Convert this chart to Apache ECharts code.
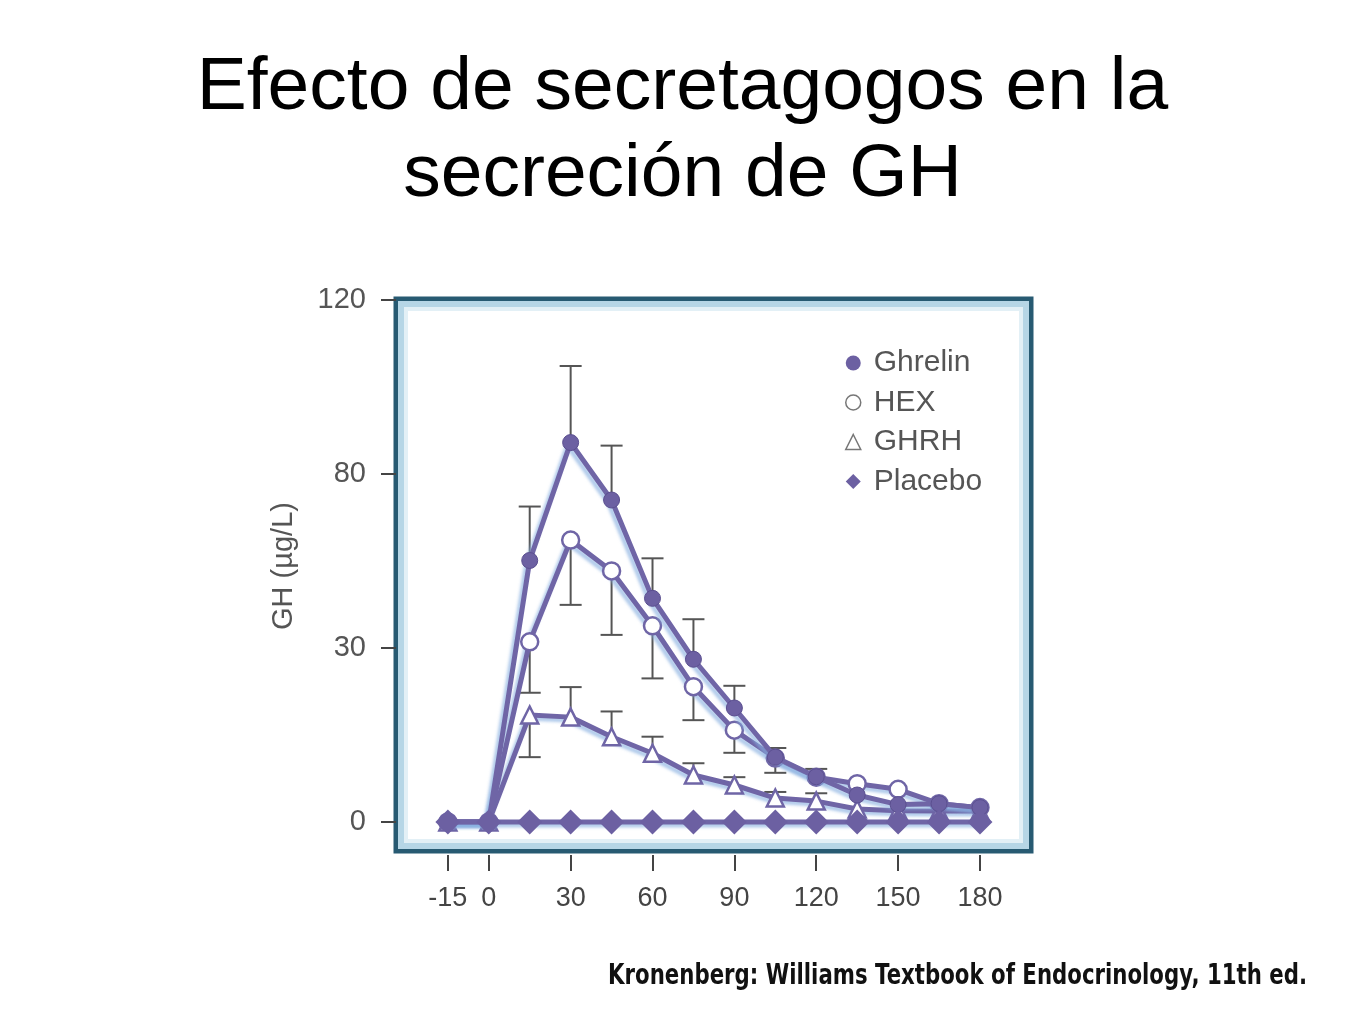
<!DOCTYPE html>
<html>
<head>
<meta charset="utf-8">
<script src="https://cdn.jsdelivr.net/npm/echarts@6/dist/echarts.min.js"></script>
<style>
  html, body { margin: 0; padding: 0; background: #ffffff; }
  #chart { width: 1365px; height: 1024px; }
</style>
</head>
<body>
<div id="chart"></div>
<script>
// ---- data ----
const times      = [-15, 0, 15, 30, 45, 60, 75, 90, 105, 120, 135, 150, 165, 180];
const ghrelin    = [0, 0, 60.1, 87.2, 74.0, 51.4, 37.4, 26.2, 14.9, 10.4, 6.2, 4.0, 4.2, 3.3];
const ghrelinErr = [null, null, 72.5, 104.8, 86.5, 60.6, 46.6, 31.3, 17.0, 12.2, null, null, null, null];
const hex        = [0, 0, 41.4, 64.8, 57.7, 45.1, 31.1, 21.1, 14.7, 10.3, 8.8, 7.5, 4.2, 3.3];
const hexErr     = [null, null, 29.7, 49.9, 43.0, 33.0, 23.4, 15.9, 11.3, null, null, null, null, null];
const ghrh       = [0, 0, 24.6, 24.1, 19.6, 15.8, 10.8, 8.5, 5.5, 4.8, 3.0, 2.6, 2.5, 2.5];
const ghrhErr    = [null, null, 14.9, 31.0, 25.4, 19.6, 13.5, 10.3, 6.9, 6.6, null, null, null, null];
const placebo    = [0, 0, 0, 0, 0, 0, 0, 0, 0, 0, 0, 0, 0, 0];

const xTickValues = [-15, 0, 30, 60, 90, 120, 150, 180];
const yTickValues = [0, 40, 80, 120];
const yTickLabels = ['0', '30', '80', '120'];

const seriesNames = ['Ghrelin', 'HEX', 'GHRH', 'Placebo'];
const titleText = 'Efecto de secretagogos en la\nsecreción de GH';
const yAxisName = 'GH (\u00B5g/L)';
const sourceText = 'Kronenberg: Williams Textbook of Endocrinology, 11th ed.';

// ---- styling ----
const PURPLE = '#6f65a6';
const FILL = '#6c60a2';
const ERR = '#555555';

function pairs(vals) { return times.map((t, i) => [t, vals[i]]); }
function errPairs(vals, ends) {
  const out = [];
  times.forEach((t, i) => { if (ends[i] != null) out.push([t, vals[i], ends[i]]); });
  return out;
}
function errSeries(vals, ends) {
  return {
    type: 'custom',
    z: 1,
    silent: true,
    data: errPairs(vals, ends),
    renderItem: function (params, api) {
      const p1 = api.coord([api.value(0), api.value(1)]);
      const p2 = api.coord([api.value(0), api.value(2)]);
      const half = 11;
      return {
        type: 'group',
        children: [
          { type: 'line', shape: { x1: p1[0], y1: p1[1], x2: p2[0], y2: p2[1] },
            style: { stroke: ERR, lineWidth: 2 } },
          { type: 'line', shape: { x1: p2[0] - half, y1: p2[1], x2: p2[0] + half, y2: p2[1] },
            style: { stroke: ERR, lineWidth: 2 } }
        ]
      };
    }
  };
}
const lineShadow = {
  color: PURPLE, width: 5,
  shadowColor: 'rgba(135,175,225,0.65)', shadowBlur: 3, shadowOffsetX: -3, shadowOffsetY: 3
};

const chart = echarts.init(document.getElementById('chart'), null, { renderer: 'canvas' });
chart.setOption({
  backgroundColor: '#ffffff',
  animation: false,
  title: {
    text: titleText,
    left: 'center',
    top: 40,
    textStyle: {
      fontFamily: 'Liberation Sans, Arial, sans-serif',
      fontSize: 75, fontWeight: 'normal', color: '#000000', lineHeight: 87
    }
  },
  legend: {
    orient: 'vertical',
    left: 840,
    top: 343,
    itemWidth: 15,
    itemHeight: 15,
    itemGap: 9.5,
    textStyle: {
      fontFamily: 'Liberation Sans, Arial, sans-serif',
      fontSize: 30, color: '#555555', lineHeight: 30,
      padding: [0, 0, 0, 8]
    },
    data: [
      { name: seriesNames[0], icon: 'circle', itemStyle: { color: FILL, borderWidth: 0 } },
      { name: seriesNames[1], icon: 'circle', itemStyle: { color: '#ffffff', borderColor: '#777777', borderWidth: 1.5 } },
      { name: seriesNames[2], icon: 'triangle', itemStyle: { color: '#ffffff', borderColor: '#777777', borderWidth: 1.5 } },
      { name: seriesNames[3], icon: 'diamond', itemStyle: { color: FILL, borderWidth: 0 } }
    ]
  },
  grid: {
    left: 396, right: 334, top: 299, bottom: 173,
    show: true, borderColor: '#275a72', borderWidth: 5, backgroundColor: 'transparent'
  },
  xAxis: {
    type: 'value',
    min: -34, max: 198.7,
    offset: 4,
    splitLine: { show: false },
    axisLine: { show: false, onZero: false },
    axisTick: { show: true, length: 16, lineStyle: { color: '#444444', width: 2 }, customValues: xTickValues },
    axisLabel: {
      customValues: xTickValues,
      margin: 30,
      fontFamily: 'Liberation Sans Narrow, Liberation Sans, Arial, sans-serif',
      fontSize: 27, color: '#444444'
    }
  },
  yAxis: {
    type: 'value',
    min: -6.67, max: 120.2,
    name: yAxisName,
    nameLocation: 'middle',
    nameRotate: 90,
    nameGap: 98,
    nameTextStyle: {
      fontFamily: 'Liberation Sans, Arial, sans-serif', fontSize: 29, color: '#555555',
      padding: [0, 0, 0, 18]
    },
    splitLine: { show: false },
    axisLine: { show: false, onZero: false },
    axisTick: { show: true, length: 15, lineStyle: { color: '#444444', width: 2 }, customValues: yTickValues },
    axisLabel: {
      customValues: yTickValues,
      margin: 30,
      fontFamily: 'Liberation Sans, Arial, sans-serif',
      fontSize: 29, color: '#555555',
      formatter: function (v) {
        const i = yTickValues.indexOf(Math.round(v));
        return i >= 0 ? yTickLabels[i] : '';
      }
    }
  },
  graphic: [
    { type: 'rect', z: 0, silent: true,
      shape: { x: 401, y: 304, width: 625, height: 542 },
      style: { fill: 'none', stroke: '#b6d6e6', lineWidth: 6 } },
    { type: 'rect', z: 0, silent: true,
      shape: { x: 406, y: 309, width: 615, height: 532 },
      style: { fill: 'none', stroke: '#e3f0f6', lineWidth: 4 } },
    { type: 'text', z: 10, silent: true,
      x: 1307, y: 977, scaleX: 0.76,
      style: {
        text: sourceText, align: 'right', verticalAlign: 'middle',
        font: 'bold 28px "DejaVu Sans", sans-serif', fill: '#111111'
      } }
  ],
  series: [
    errSeries(ghrelin, ghrelinErr),
    errSeries(hex, hexErr),
    errSeries(ghrh, ghrhErr),
    {
      name: seriesNames[2], type: 'line', z: 4, data: pairs(ghrh),
      symbol: 'triangle', symbolSize: 17,
      lineStyle: lineShadow,
      itemStyle: { color: '#ffffff', borderColor: PURPLE, borderWidth: 2.5 }
    },
    {
      name: seriesNames[1], type: 'line', z: 5, data: pairs(hex),
      symbol: 'circle', symbolSize: 17,
      lineStyle: lineShadow,
      itemStyle: { color: '#ffffff', borderColor: PURPLE, borderWidth: 2.5 }
    },
    {
      name: seriesNames[0], type: 'line', z: 6, data: pairs(ghrelin),
      symbol: 'circle', symbolSize: 16,
      lineStyle: lineShadow,
      itemStyle: { color: FILL, borderColor: '#5b4f90', borderWidth: 1 }
    },
    {
      name: seriesNames[3], type: 'line', z: 7, data: pairs(placebo),
      symbol: 'diamond', symbolSize: 25,
      lineStyle: lineShadow,
      itemStyle: { color: FILL, borderColor: FILL, borderWidth: 0 }
    }
  ]
});
</script>
</body>
</html>
